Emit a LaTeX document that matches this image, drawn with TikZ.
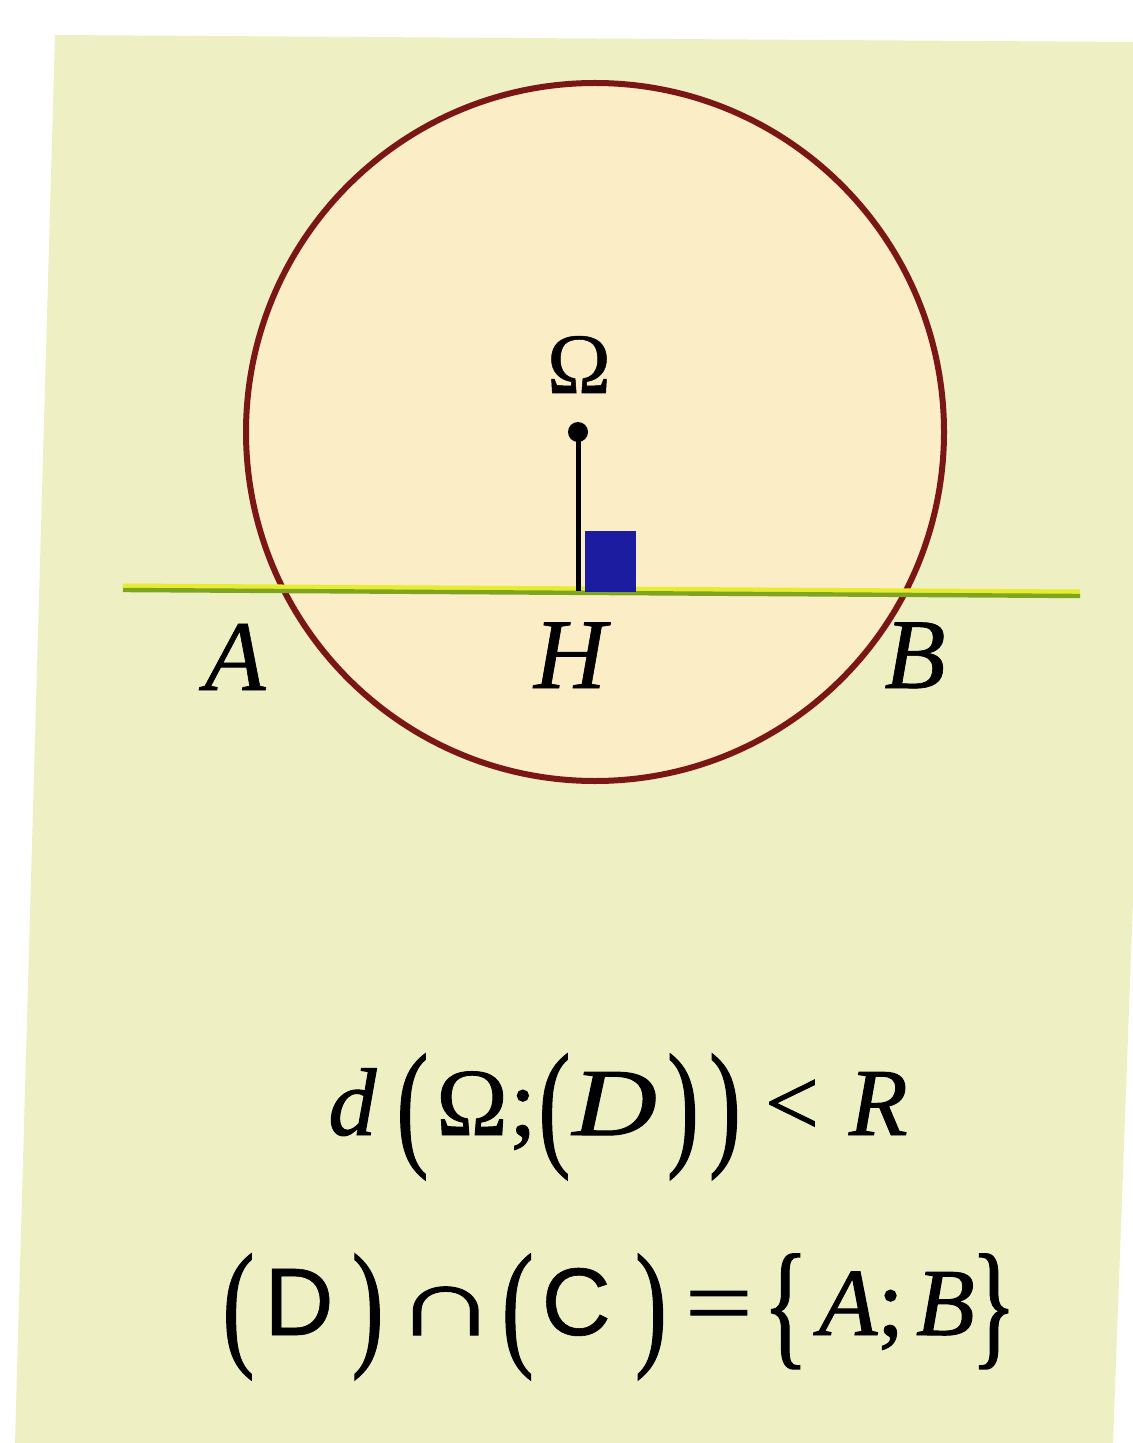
\documentclass[tikz,border=0pt]{standalone}
\usepackage{graphicx}
\usepackage{fontspec}
\setmainfont{Liberation Serif}
\newfontfamily\heavy{Liberation Serif}[FakeBold=1]
\newfontfamily\semiheavy{Liberation Serif}[FakeBold=0.6]
\newfontfamily\sansf{Liberation Sans}[FakeBold=0.6]
\usetikzlibrary{calc}
\definecolor{panel}{HTML}{EEF0C4}
\definecolor{disk}{HTML}{FBEDC6}
\definecolor{rim}{HTML}{7A1616}
\definecolor{lgreen}{HTML}{7DA520}
\definecolor{lyellow}{HTML}{E8EC30}
\definecolor{sqblue}{HTML}{1C1CA0}
\newcommand{\tallp}[1]{\raisebox{-0.16em}{\scalebox{1}[1.45]{#1}}}
\tikzset{
  lbl/.style={font=\fontsize{50}{52}\semiheavy\itshape, inner sep=0pt, anchor=base},
  frm/.style={font=\fontsize{48}{50}\heavy, inner sep=0pt, anchor=base west}
}
\begin{document}
\begin{tikzpicture}[x=0.5pt,y=-0.5pt]
\useasboundingbox (0,0) rectangle (1133,1443);
\fill[white] (0,0) rectangle (1133,1443);
\fill[panel] (55,35) -- (1133,42) -- (1133,900) -- (1113,1443) -- (15,1443) -- cycle;
% circle
\coordinate (C) at (595,432);
\filldraw[fill=disk, draw=rim, line width=3pt] (C) circle (349);
% line D
\coordinate (L1) at (123,588);
\coordinate (L2) at (1080,594);
\draw[lyellow, line width=2.5pt] ($(L1)+(0,-2)$) -- ($(L2)+(0,-2)$);
\draw[lgreen, line width=2.2pt] ($(L1)+(0,2)$) -- ($(L2)+(0,2)$);
% perpendicular
\coordinate (O) at (578,432);
\coordinate (Hp) at (578,591);
\fill[sqblue] (585,531) rectangle (636,592);
\draw[black, line width=2.5pt] (O) -- (Hp);
\fill[black] (O) circle (10);
% labels
\node[lbl, font=\fontsize{43}{45}\semiheavy] (om) at (579,393) {Ω};
\node[lbl] (A) at (235,690) {A};
\node[lbl] (H) at (570,688) {H};
\node[lbl] (B) at (915,688) {B};
% formulas
\node[frm] (f1) at (328,1135) {{\itshape d}\kern10pt\tallp{(}\kern4ptΩ\kern1pt;\kern1pt\tallp{(}\kern1pt\scalebox{1.22}[1]{\itshape D}\kern5pt\tallp{)}\kern5pt\tallp{)}\kern12pt<\kern15pt{\itshape R}};
\node[frm] (f2) at (222,1335) {\tallp{(}\kern5pt{\sansf D}\kern9pt\tallp{)}\kern5pt\scalebox{1.5}[1]{∩}\kern2pt\tallp{(}\kern4pt{\sansf C}\kern12pt\tallp{)}\kern9pt\scalebox{1.25}[1]{=}\kern5pt\tallp{\{}\kern5pt{\itshape A};\kern6pt{\itshape B}\kern-2pt\tallp{\}}};
\end{tikzpicture}
\end{document}
